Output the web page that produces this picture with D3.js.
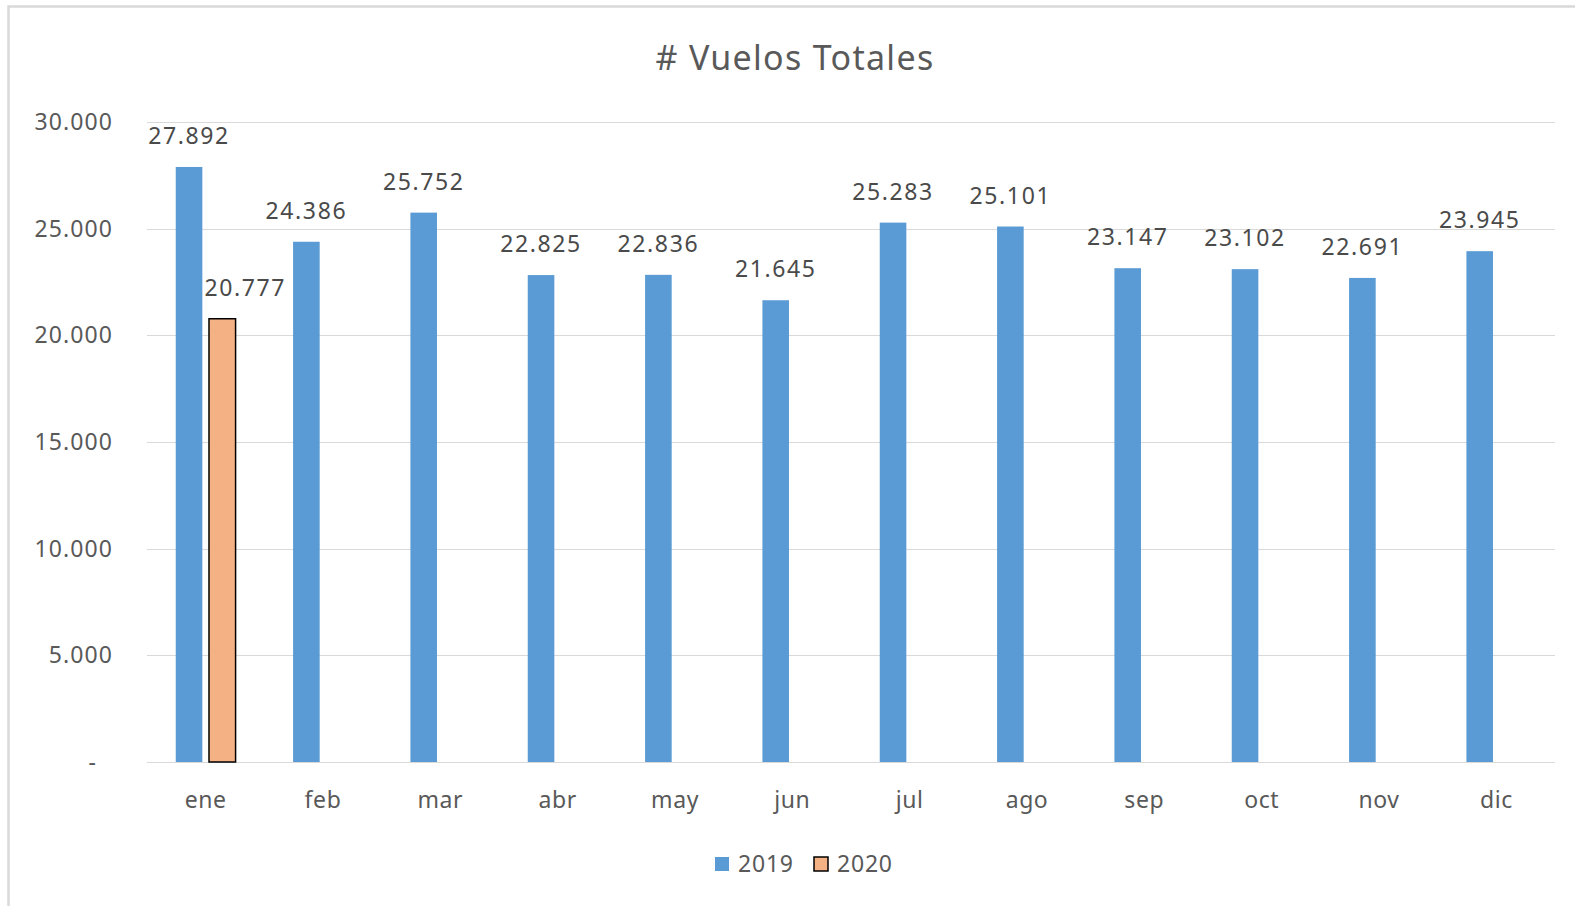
<!DOCTYPE html>
<html>
<head>
<meta charset="utf-8">
<script src="https://cdn.jsdelivr.net/npm/d3@7"></script>
<style>
  body { margin: 0; background: #fff; }
  svg { display: block; font-family: "Noto Sans", sans-serif; }
</style>
</head>
<body>
<div id="chart"></div>
<script>
// data
const months = ['ene', 'feb', 'mar', 'abr', 'may', 'jun', 'jul', 'ago', 'sep', 'oct', 'nov', 'dic'];
const seriesNames = ['2019', '2020'];
const vuelos2019 = [27892, 24386, 25752, 22825, 22836, 21645, 25283, 25101, 23147, 23102, 22691, 23945];
const vuelos2020 = [20777];
const yTicks = [0, 5000, 10000, 15000, 20000, 25000, 30000];

const width = 1575;
const height = 906;
const margin = { top: 122, right: 20, bottom: 144, left: 147 };

const blue = '#5b9bd5';
const orange = '#f4b183';
const textColor = '#595959';

const locale = d3.formatLocale({ decimal: ',', thousands: '.', grouping: [3], currency: ['', ''] });
const fmt = locale.format(',');

const svg = d3.select('#chart')
  .append('svg')
  .attr('width', width)
  .attr('height', height);

// chart border
svg.append('rect')
  .attr('x', 8.5)
  .attr('y', 6.5)
  .attr('width', width + 20)
  .attr('height', height + 20)
  .attr('fill', '#fff')
  .attr('stroke', '#d9d9d9')
  .attr('stroke-width', 2.5);

const plotW = 1555 - margin.left;
const plotH = 762 - margin.top;

const g = svg.append('g')
  .attr('transform', `translate(${margin.left},${margin.top})`);

const x0 = d3.scaleBand()
  .domain(months)
  .range([0, plotW])
  .paddingInner(0.49)
  .paddingOuter(0.245);

const x1 = d3.scaleBand()
  .domain(seriesNames)
  .range([0, x0.bandwidth()])
  .paddingInner(0.2);

const y = d3.scaleLinear()
  .domain([0, 30000])
  .range([plotH, 0]);

// gridlines
g.append('g')
  .selectAll('line')
  .data(yTicks)
  .enter()
  .append('line')
  .attr('x1', 0)
  .attr('x2', plotW)
  .attr('y1', d => Math.round(y(d)) + 0.5)
  .attr('y2', d => Math.round(y(d)) + 0.5)
  .attr('stroke', '#d9d9d9')
  .attr('stroke-width', 1.2);

// y axis labels
const yAxis = g.append('g')
  .call(d3.axisLeft(y).tickValues(yTicks).tickSize(0).tickPadding(34)
    .tickFormat(d => d === 0 ? '-' : fmt(d)));
yAxis.select('.domain').remove();
yAxis.selectAll('text')
  .attr('fill', textColor)
  .attr('font-size', 23)
  .attr('font-family', '"Noto Sans", sans-serif')
  .attr('letter-spacing', 1.1);
yAxis.selectAll('.tick')
  .filter(d => d === 0)
  .select('text')
  .attr('dx', -16);

// x axis labels
const xAxis = g.append('g')
  .attr('transform', `translate(0,${plotH})`)
  .call(d3.axisBottom(x0).tickSize(0).tickPadding(30));
xAxis.select('.domain').remove();
xAxis.selectAll('text')
  .attr('fill', textColor)
  .attr('font-size', 23)
  .attr('letter-spacing', 0.6)
  .attr('font-family', '"Noto Sans", sans-serif');

const series = [
  { name: '2019', values: vuelos2019, color: blue, stroke: 'none', dx: 0 },
  { name: '2020', values: vuelos2020, color: orange, stroke: '#000', dx: 23 },
];

series.forEach(s => {
  const rows = s.values.map((v, i) => ({ month: months[i], value: v }));
  g.append('g')
    .selectAll('rect')
    .data(rows)
    .enter()
    .append('rect')
    .attr('x', d => x0(d.month) + x1(s.name))
    .attr('y', d => y(d.value))
    .attr('width', x1.bandwidth())
    .attr('height', d => y(0) - y(d.value))
    .attr('fill', s.color)
    .attr('stroke', s.stroke)
    .attr('stroke-width', 1.5);

  g.append('g')
    .selectAll('text')
    .data(rows)
    .enter()
    .append('text')
    .attr('x', d => x0(d.month) + x1(s.name) + x1.bandwidth() / 2 + s.dx)
    .attr('y', d => y(d.value) - 23)
    .attr('text-anchor', 'middle')
    .attr('font-size', 23)
    .attr('letter-spacing', 1.6)
    .attr('fill', '#4a4a4a')
    .text(d => fmt(d.value));
});

// title
svg.append('text')
  .attr('x', 795)
  .attr('y', 70)
  .attr('text-anchor', 'middle')
  .attr('font-size', 34)
  .attr('letter-spacing', 1.3)
  .attr('fill', textColor)
  .text('# Vuelos Totales');

// legend
const legend = svg.append('g')
  .attr('transform', 'translate(715,857)');
const legendItem = legend.selectAll('g')
  .data(series)
  .enter()
  .append('g')
  .attr('transform', (d, i) => `translate(${i * 99},0)`);
legendItem.append('rect')
  .attr('width', 14)
  .attr('height', 14)
  .attr('fill', d => d.color)
  .attr('stroke', d => d.stroke)
  .attr('stroke-width', 1.5);
legendItem.append('text')
  .attr('x', 23)
  .attr('y', 7)
  .attr('dy', '0.36em')
  .attr('font-size', 23)
  .attr('letter-spacing', 0.8)
  .attr('fill', textColor)
  .text(d => d.name);
</script>
</body>
</html>
